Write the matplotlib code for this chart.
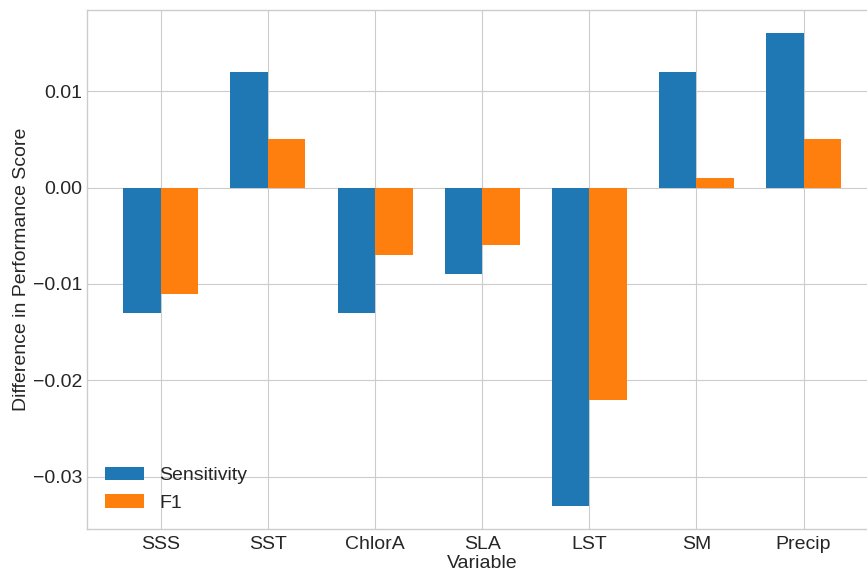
import matplotlib
matplotlib.use("Agg")
import matplotlib.pyplot as plt
import numpy as np

variables = ["SSS", "SST", "ChlorA", "SLA", "LST", "SM", "Precip"]
sensitivity = [-0.013, 0.012, -0.013, -0.009, -0.033, 0.012, 0.016]
f1 = [-0.011, 0.005, -0.007, -0.006, -0.022, 0.001, 0.005]

plt.style.use("seaborn-v0_8-whitegrid")
plt.rcParams["font.family"] = ["Liberation Sans", "DejaVu Sans"]

fig, ax = plt.subplots(figsize=(8.67, 5.74), dpi=100)
fig.subplots_adjust(left=0.1008, right=1.0115, top=0.983, bottom=0.078)

x = np.arange(len(variables))
width = 0.35
ax.bar(x - width / 2, sensitivity, width, label="Sensitivity", color="#1f77b4")
ax.bar(x + width / 2, f1, width, label="F1", color="#ff7f0e")

ax.set_xticks(x)
ax.set_xticklabels(variables, fontsize=14)
ax.tick_params(axis="x", pad=5)
ax.tick_params(axis="y", labelsize=14)
ax.set_xlabel("Variable", fontsize=14, labelpad=1)
ax.set_ylabel("Difference in Performance Score", fontsize=14, labelpad=2)
ax.legend(fontsize=14, loc="lower left")

for spine in ax.spines.values():
    spine.set_visible(True)
    spine.set_color("#cccccc")

fig.savefig("out.png", dpi=100)
